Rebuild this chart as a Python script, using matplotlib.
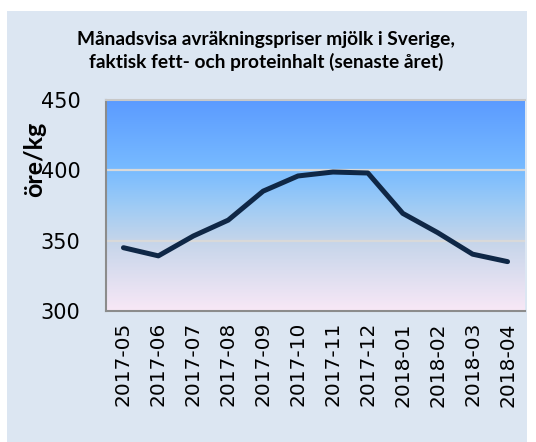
import numpy as np
import matplotlib
matplotlib.use("Agg")
import matplotlib.pyplot as plt
from matplotlib.colors import LinearSegmentedColormap
from matplotlib.patches import Rectangle

# data
months = ['2017-05', '2017-06', '2017-07', '2017-08', '2017-09', '2017-10',
          '2017-11', '2017-12', '2018-01', '2018-02', '2018-03', '2018-04']
prices = [345.0, 339.2, 353.3, 364.6, 385.2, 396.0,
          398.8, 398.1, 369.4, 355.7, 340.4, 335.1]
yticks = [300, 350, 400, 450]

title = 'Månadsvisa avräkningspriser mjölk i Sverige,\nfaktisk fett- och proteinhalt (senaste året)'
ylabel = 'öre/kg'

fig = plt.figure(figsize=(5.36, 4.42), dpi=100)
fig.patch.set_facecolor('white')

# light blue chart area box
W, H = 536, 442
fig.patches.append(Rectangle((7 / W, 0), (527 - 7) / W, (442 - 11) / H,
                             transform=fig.transFigure, facecolor='#dce6f2',
                             edgecolor='none', zorder=-10))

ax = fig.add_axes([106 / W, 1 - 311 / H, (525 - 106) / W, (311 - 100) / H])
ax.set_zorder(5)
ax.set_facecolor('none')

# background gradient in the plot area
cmap = LinearSegmentedColormap.from_list('bg', [
    (0.0, '#5b9bff'),
    (0.33, '#78bbff'),
    (0.5, '#9ecbf5'),
    (0.67, '#c5d5ea'),
    (1.0, '#f8e8f6')])
grad = np.linspace(0, 1, 256).reshape(-1, 1)
ax.imshow(grad, cmap=cmap, aspect='auto', extent=(-0.5, len(months) - 0.5, 300, 450),
          origin='upper', zorder=0)

x = np.arange(len(months))
ax.plot(x, prices, color='#0f2746', lw=3.6, solid_capstyle='round',
        solid_joinstyle='round', zorder=3)

ax.set_xlim(-0.5, len(months) - 0.5)
ax.set_ylim(300, 450)
ax.set_yticks(yticks)
ax.set_yticklabels([str(v) for v in yticks], fontsize=15)
ax.set_xticks(x)
ax.set_xticklabels(months, rotation=90, fontsize=14.5)
ax.tick_params(length=0, pad=8)
ax.tick_params(axis='y', pad=18.5)

for v in [350, 400]:
    ax.axhline(v, color='#d9d9d9', lw=1.6, zorder=1)

for s in ['left', 'bottom', 'top']:
    ax.spines[s].set_color('#8c8c8c')
    ax.spines[s].set_linewidth(1.5)
ax.spines['top'].set_color('#c8c8c8')
ax.spines['right'].set_visible(False)

fig.text(266 / W, 1 - 51 / H, title, ha='center', va='center', fontsize=13.8,
         fontweight='bold', family='Lato', linespacing=1.35)
fig.text(35 / W, 1 - 159 / H, ylabel, ha='center', va='center', rotation=90,
         fontsize=18, fontweight='bold', family='Lato')

fig.savefig('out.png', dpi=100)
